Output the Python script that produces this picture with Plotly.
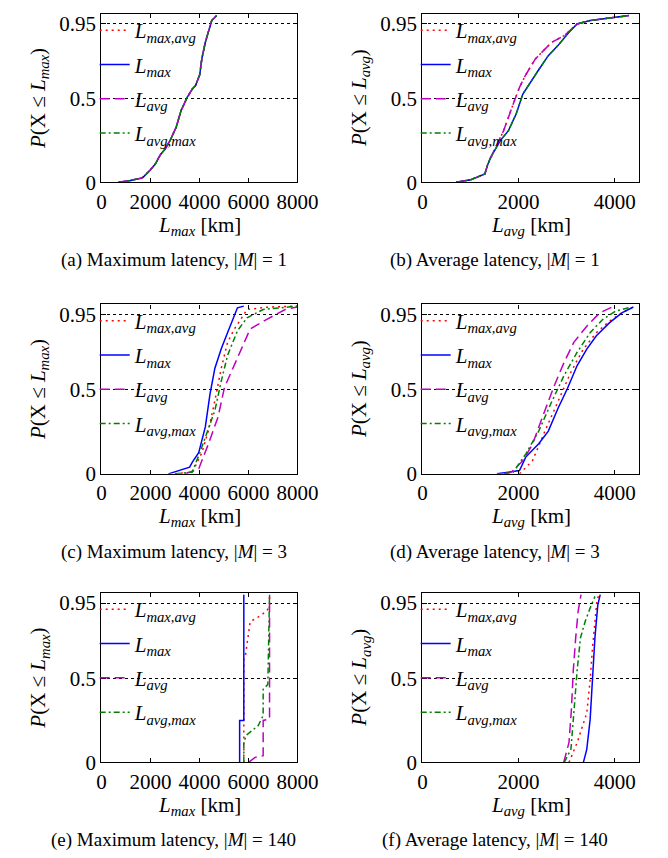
import plotly.graph_objects as go
from plotly.subplots import make_subplots

# ---- data: CDF points (x in km, p = probability) ----
# (a) maximum latency, |M| = 1  (all four strategies coincide)
A_X = [700, 1150, 1600, 1700, 2000, 2200, 2400, 2600, 2800, 3050, 3250, 3500, 3710, 3840, 4010, 4100, 4240, 4370, 4500, 4700]
A_P = [0, 0.01, 0.025, 0.03, 0.075, 0.11, 0.165, 0.2, 0.25, 0.33, 0.43, 0.51, 0.56, 0.58, 0.645, 0.744, 0.84, 0.9, 0.97, 1.0]

# (b) average latency, |M| = 1
B_MAX_X = [700, 1000, 1300, 1350, 1420, 1620, 1790, 1950, 2090, 2220, 2420, 2620, 2820, 3050, 3220, 3490, 4020, 4300]
B_MAX_P = [0, 0.015, 0.05, 0.1, 0.15, 0.25, 0.31, 0.41, 0.53, 0.59, 0.675, 0.76, 0.82, 0.9, 0.95, 0.97, 0.99, 1.0]
B_AVG_X = [700, 1000, 1300, 1350, 1490, 1690, 1890, 2020, 2150, 2350, 2690, 2950, 3220, 3490, 4020, 4300]
B_AVG_P = [0, 0.015, 0.05, 0.1, 0.19, 0.31, 0.47, 0.57, 0.645, 0.74, 0.84, 0.88, 0.95, 0.97, 0.99, 1.0]

# (c) maximum latency, |M| = 3
C_MAXAVG_X = [3000, 3450, 3710, 4100, 4370, 4630, 4890, 5150, 5420, 5680, 5940, 6860, 8000]
C_MAXAVG_P = [0, 0.005, 0.01, 0.126, 0.26, 0.437, 0.63, 0.785, 0.863, 0.92, 0.98, 0.995, 1.0]
C_MAX_X = [2730, 3450, 3600, 3710, 3970, 4240, 4430, 4630, 4890, 5150, 5420, 5550, 5810]
C_MAX_P = [0, 0.03, 0.04, 0.07, 0.126, 0.28, 0.475, 0.63, 0.746, 0.843, 0.94, 0.99, 1.0]
C_AVG_X = [3400, 3970, 4370, 4760, 5020, 5420, 5680, 6070, 6730, 7500, 8000]
C_AVG_P = [0, 0.03, 0.18, 0.34, 0.515, 0.65, 0.728, 0.864, 0.92, 0.98, 0.995]
C_AVGMAX_X = [3000, 3700, 4000, 4240, 4630, 4890, 5150, 5550, 5940, 6600, 7500, 8000]
C_AVGMAX_P = [0, 0.01, 0.12, 0.22, 0.378, 0.553, 0.708, 0.853, 0.93, 0.98, 0.995, 1.0]

# (d) average latency, |M| = 3
D_MAXAVG_X = [2020, 2290, 2550, 2820, 3090, 3350, 3620, 3890, 4150, 4390]
D_MAXAVG_P = [0, 0.078, 0.255, 0.43, 0.607, 0.744, 0.842, 0.91, 0.96, 0.995]
D_MAX_X = [1550, 2020, 2150, 2420, 2620, 2820, 3020, 3220, 3420, 3620, 3890, 4150, 4390]
D_MAX_P = [0, 0.02, 0.1, 0.18, 0.255, 0.39, 0.51, 0.646, 0.744, 0.823, 0.9, 0.96, 0.995]
D_AVG_X = [1700, 1850, 2090, 2290, 2490, 2750, 2950, 3150, 3420, 3690, 3950]
D_AVG_P = [0, 0.01, 0.078, 0.176, 0.333, 0.53, 0.666, 0.784, 0.88, 0.96, 0.995]
D_AVGMAX_X = [1700, 1890, 2150, 2420, 2690, 2950, 3220, 3490, 3750, 4020, 4350]
D_AVGMAX_P = [0, 0.01, 0.118, 0.255, 0.43, 0.588, 0.725, 0.842, 0.92, 0.97, 0.995]

# (e) maximum latency, |M| = 140
E_MAXAVG_X = [5810, 5810, 5880, 6070, 6330, 6730, 6860, 6860]
E_MAXAVG_P = [0, 0.62, 0.64, 0.84, 0.86, 0.9, 0.93, 1.0]
E_MAX_X = [5640, 5640, 5810, 5810]
E_MAX_P = [0, 0.25, 0.25, 1.0]
E_AVG_X = [6000, 6270, 6600, 6600, 6860, 6860]
E_AVG_P = [0, 0.03, 0.04, 0.25, 0.258, 1.0]
E_AVGMAX_X = [5810, 5810, 5940, 6400, 6600, 6600, 6790, 6830, 6860]
E_AVGMAX_P = [0, 0.126, 0.165, 0.22, 0.28, 0.436, 0.465, 0.94, 1.0]

# (f) average latency, |M| = 140
F_MAXAVG_X = [3050, 3220, 3420, 3490, 3540, 3590, 3630, 3670]
F_MAXAVG_P = [0, 0.118, 0.294, 0.49, 0.686, 0.843, 0.96, 1.0]
F_MAX_X = [3350, 3420, 3490, 3540, 3590, 3650, 3700]
F_MAX_P = [0, 0.078, 0.255, 0.49, 0.744, 0.94, 1.0]
F_AVG_X = [2940, 3050, 3100, 3140, 3190, 3240, 3300]
F_AVG_P = [0, 0.118, 0.314, 0.55, 0.744, 0.9, 1.0]
F_AVGMAX_X = [2950, 3090, 3140, 3220, 3290, 3390, 3490, 3590]
F_AVGMAX_P = [0, 0.078, 0.255, 0.55, 0.744, 0.843, 0.92, 0.99]

SERIES_NAMES = ["<i>L</i><sub><i>max,avg</i></sub>", "<i>L</i><sub><i>max</i></sub>",
                "<i>L</i><sub><i>avg</i></sub>", "<i>L</i><sub><i>avg,max</i></sub>"]
CAPTIONS = ["(a) Maximum latency, |<i>M</i>| = 1", "(b) Average latency, |<i>M</i>| = 1",
            "(c) Maximum latency, |<i>M</i>| = 3", "(d) Average latency, |<i>M</i>| = 3",
            "(e) Maximum latency, |<i>M</i>| = 140", "(f) Average latency, |<i>M</i>| = 140"]
Y_TICKS = [0, 0.5, 0.95]
Y_TICKTEXT = ["0", "0.5", "0.95"]

panels = [
    [(A_X, A_P), (A_X, A_P), (A_X, A_P), (A_X, A_P)],
    [(B_AVG_X, B_AVG_P), (B_MAX_X, B_MAX_P), (B_AVG_X, B_AVG_P), (B_MAX_X, B_MAX_P)],
    [(C_MAXAVG_X, C_MAXAVG_P), (C_MAX_X, C_MAX_P), (C_AVG_X, C_AVG_P), (C_AVGMAX_X, C_AVGMAX_P)],
    [(D_MAXAVG_X, D_MAXAVG_P), (D_MAX_X, D_MAX_P), (D_AVG_X, D_AVG_P), (D_AVGMAX_X, D_AVGMAX_P)],
    [(E_MAXAVG_X, E_MAXAVG_P), (E_MAX_X, E_MAX_P), (E_AVG_X, E_AVG_P), (E_AVGMAX_X, E_AVGMAX_P)],
    [(F_MAXAVG_X, F_MAXAVG_P), (F_MAX_X, F_MAX_P), (F_AVG_X, F_AVG_P), (F_AVGMAX_X, F_AVGMAX_P)],
]

styles = [("#ff0000", "2px,4px"), ("#0000ff", "solid"), ("#bf00bf", "10px,5px"), ("#008000", "6px,3px,2px,3px")]

W, H = 668, 858
FONT = "Liberation Serif, Times New Roman, Times, serif"
col_px = [(92, 296), (426, 651)]
row_px = [(5, 176), (300, 472), (593, 765)]

fig = make_subplots(rows=3, cols=2)

for i, panel in enumerate(panels):
    r, c = i // 2 + 1, i % 2 + 1
    leg = "legend" if i == 0 else f"legend{i + 1}"
    for j, (xs, ps) in enumerate(panel):
        color, dash = styles[j]
        fig.add_trace(go.Scatter(x=xs, y=ps, mode="lines", name=SERIES_NAMES[j],
                                 line=dict(color=color, dash=dash, width=1.5),
                                 legend=leg, legendgroup=f"{i}-{j}"),
                      row=r, col=c)

annotations = []
for i in range(6):
    r, c = i // 2, i % 2
    x0, x1 = col_px[c]
    y0, y1 = row_px[r]
    ax = "" if i == 0 else str(i + 1)
    is_max = c == 0
    fig.layout["xaxis" + ax].update(
        domain=[x0 / W, x1 / W], range=[0, 8000] if is_max else [0, 4500],
        tickvals=[0, 2000, 4000, 6000, 8000] if is_max else [0, 2000, 4000],
        ticks="inside", ticklen=4, mirror="ticks", showline=True, linecolor="black",
        linewidth=1.2, showgrid=False, zeroline=False, tickcolor="black",
        tickfont=dict(family=FONT, size=21, color="black"))
    fig.layout["yaxis" + ax].update(
        domain=[1 - y1 / H, 1 - y0 / H], range=[0, 1.01],
        tickvals=Y_TICKS, ticktext=Y_TICKTEXT,
        ticks="inside", ticklen=4, mirror="ticks", showline=True, linecolor="black",
        linewidth=1.2, showgrid=True, gridcolor="black", griddash="dot", gridwidth=1,
        zeroline=False, tickcolor="black",
        tickfont=dict(family=FONT, size=21, color="black"))
    leg = "legend" if i == 0 else f"legend{i + 1}"
    fig.layout[leg] = dict(x=(x0 - 7) / W, y=1 - (y0 - 4) / H, xanchor="left", yanchor="top",
                           bgcolor="rgba(0,0,0,0)", borderwidth=0, traceorder="grouped",
                           tracegroupgap=4, itemwidth=30,
                           font=dict(family=FONT, size=21, color="black"))
    sub = "max" if is_max else "avg"
    common = dict(xref="paper", yref="paper", showarrow=False, xanchor="center", yanchor="middle")
    annotations.append(dict(x=27 / W if c == 0 else 361 / W, y=1 - (y0 + y1) / 2 / H,
                            textangle=-90,
                            text=f"<i>P</i>(X ≤ <i>L</i><sub><i>{sub}</i></sub>)",
                            font=dict(family=FONT, size=21, color="black"), **common))
    annotations.append(dict(x=(x0 + x1) / 2 / W, y=1 - (y1 + 44) / H,
                            text=f"<i>L</i><sub><i>{sub}</i></sub> [km]",
                            font=dict(family=FONT, size=21, color="black"), **common))
    annotations.append(dict(x=(167 if c == 0 else 501) / W, y=1 - (y1 + 79) / H,
                            text=CAPTIONS[i],
                            font=dict(family=FONT, size=19, color="black"), **common))

fig.update_layout(width=W, height=H, margin=dict(l=0, r=0, t=0, b=0),
                  plot_bgcolor="white", paper_bgcolor="white",
                  font=dict(family=FONT, color="black"),
                  annotations=annotations)

fig.write_html("out.html")
